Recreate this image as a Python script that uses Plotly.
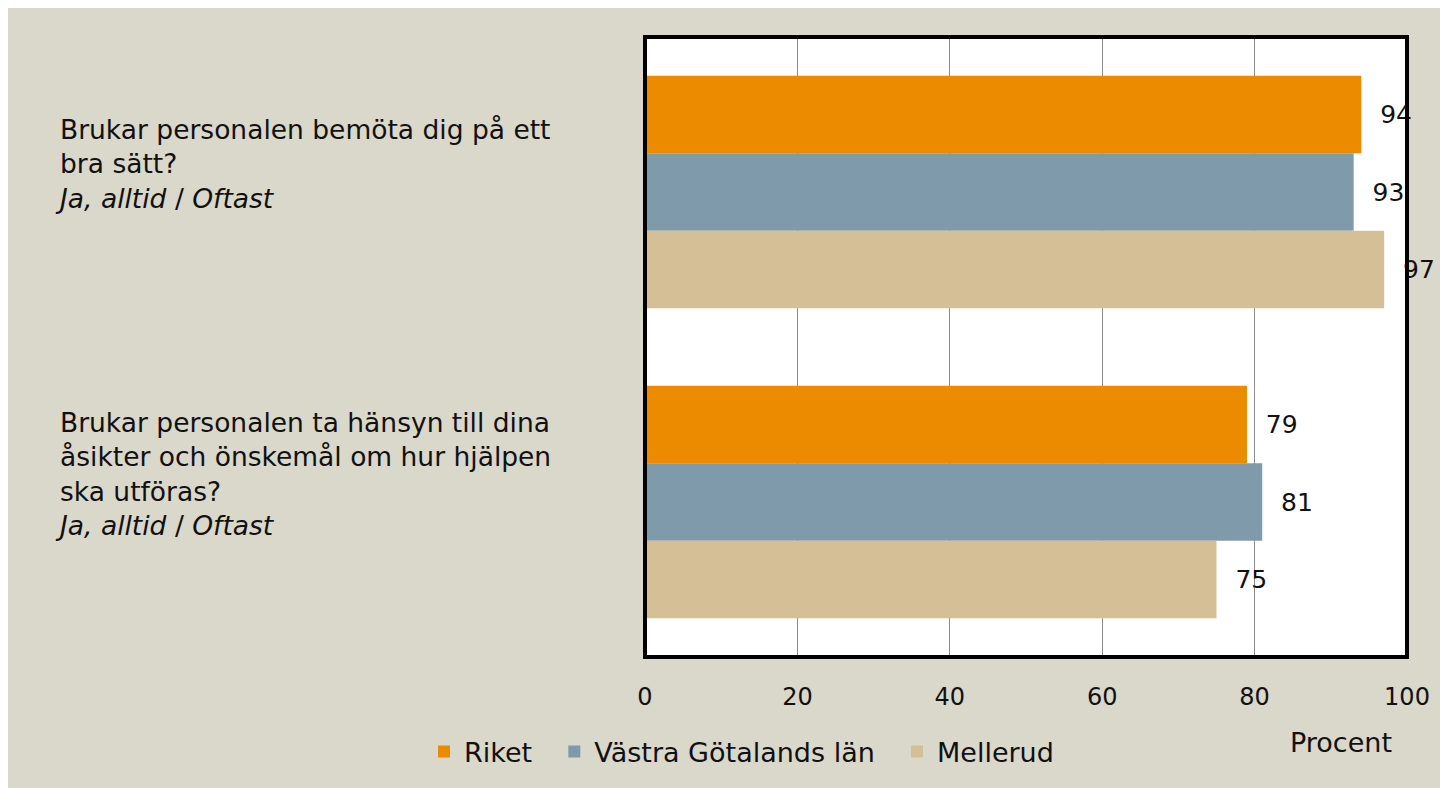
import plotly.graph_objects as go

categories = ["q1", "q2"]
category_labels = [
    "Brukar personalen bemöta dig på ett<br>bra sätt?<br><i>Ja, alltid</i> / <i>Oftast</i>",
    "Brukar personalen ta hänsyn till dina<br>åsikter och önskemål om hur hjälpen<br>ska utföras?<br><i>Ja, alltid</i> / <i>Oftast</i>",
]
series_names = ["Riket", "Västra Götalands län", "Mellerud"]
riket = [94, 79]
vastra = [93, 81]
mellerud = [97, 75]
series_values = [riket, vastra, mellerud]
colors = ["#EC8B00", "#7E9AAB", "#D4BF96"]
x_ticks = [0, 20, 40, 60, 80, 100]

FONT = "DejaVu Sans"
BG = "#DAD7CB"

W, H = 1448, 788
L, R, T, B = 637, 49, 29, 139
pw, ph = W - L - R, H - T - B

PAD = "\u00a0\u00a0"
LEG_PAD = "\u00a0\u00a0"

fig = go.Figure()
for name, vals, col in zip(series_names, series_values, colors):
    fig.add_trace(go.Bar(
        y=categories, x=vals, name=name + LEG_PAD, orientation="h",
        marker=dict(color=col, line=dict(width=0)),
        text=[PAD + str(v) for v in vals], textposition="outside",
        textfont=dict(family=FONT, size=25, color="#111"),
        cliponaxis=False,
    ))

shapes = [
    dict(type="rect", xref="paper", yref="paper", layer="below",
         x0=0, x1=1, y0=0, y1=1, fillcolor="white", line=dict(width=0)),
    dict(type="rect", xref="paper", yref="paper", layer="above",
         x0=0, x1=1, y0=0, y1=1, line=dict(color="black", width=4)),
]

annotations = []
for cat, lab in zip(categories, category_labels):
    annotations.append(dict(
        xref="paper", yref="y", x=(45 - L) / pw, y=cat, text=lab,
        xanchor="left", yanchor="middle", align="left", showarrow=False,
        yshift=28, font=dict(family=FONT, size=26.5, color="#111")))
annotations.append(dict(
    xref="paper", yref="paper", x=(1333 - L) / pw, y=-(734 - T - ph) / ph,
    text="Procent", showarrow=False, xanchor="center", yanchor="middle",
    font=dict(family=FONT, size=27, color="#111")))

fig.update_layout(
    width=W, height=H,
    margin=dict(l=L, r=R, t=T, b=B, pad=0),
    paper_bgcolor=BG, plot_bgcolor="rgba(0,0,0,0)",
    barmode="group", bargap=0.25, bargroupgap=0,
    font=dict(family=FONT, size=24, color="#111"),
    xaxis=dict(range=[0, 100], tickvals=x_ticks, showgrid=True,
               gridcolor="#8C8C8C", gridwidth=1, zeroline=False,
               showline=False, ticks="", ticklabelstandoff=23,
               tickfont=dict(family=FONT, size=24, color="#111")),
    yaxis=dict(categoryorder="array", categoryarray=categories,
               autorange="reversed", showticklabels=False, showgrid=False,
               zeroline=False, showline=False),
    legend=dict(orientation="h", x=(416 - L) / pw, xanchor="left",
                y=-(744 - T - ph) / ph, yanchor="middle",
                bgcolor="rgba(0,0,0,0)",
                font=dict(family=FONT, size=27, color="#111"),
                traceorder="normal"),
    shapes=shapes, annotations=annotations,
)

fig.write_html("out.html")
